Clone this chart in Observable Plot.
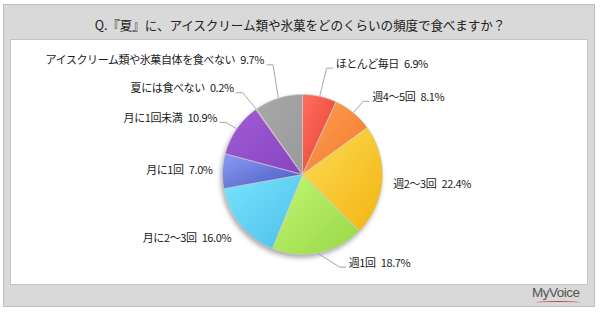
<!DOCTYPE html>
<html>
<head>
<meta charset="utf-8">
<script src="https://cdn.jsdelivr.net/npm/d3@7"></script>
<script src="https://cdn.jsdelivr.net/npm/@observablehq/plot@0.6"></script>
<style>
  html, body { margin: 0; padding: 0; background: #fff; }
  #wrap { position: relative; width: 600px; height: 312px; overflow: hidden; font-family: "Noto Sans CJK JP", "Noto Sans", sans-serif; }
  .outer { position: absolute; left: 3px; top: 4px; width: 590px; height: 301px; background: #d9d9d9; border: 1px solid #bdbdbd; }
  .inner { position: absolute; left: 10px; top: 39px; width: 576px; height: 244px; background: #fff; border: 1px solid #c4c4c4; }
  .title { position: absolute; left: 0; top: 15px; width: 600px; text-align: center; font-size: 12.6px; line-height: 20px; color: #222; letter-spacing: -0.1px; }
  #chart { position: absolute; left: 0; top: 0; }
  #chart svg text { letter-spacing: -0.4px; }
  .logo { position: absolute; left: 532px; top: 285px; font-family: "Liberation Sans", Arial, sans-serif; font-size: 13.5px; color: #555; letter-spacing: -0.5px; }
  .logo .swoosh { position: absolute; left: 4px; top: 16px; width: 44px; height: 2px; border-top: 1px solid #c0404a; border-radius: 50%; }
</style>
</head>
<body>
<div id="wrap">
  <div class="outer"></div>
  <div class="inner"></div>
  <div class="title">Q.『夏』に、アイスクリーム類や氷菓をどのくらいの頻度で食べますか？</div>
  <div id="chart"></div>
  <div class="logo">MyVoice<span class="swoosh"></span></div>
</div>
<script>
// ---- data ----
const categories = ["ほとんど毎日", "週4～5回", "週2～3回", "週1回", "月に2～3回", "月に1回", "月に1回未満", "夏には食べない", "アイスクリーム類や氷菓自体を食べない"];
const values = [6.9, 8.1, 22.4, 18.7, 16.0, 7.0, 10.9, 0.2, 9.7];

// ---- style / layout ----
const colorLight = ["#ff6e60", "#ffa055", "#fedc55", "#c2f874", "#78e4ff", "#8c9cf2", "#a05cd4", "#e07ab0", "#a8a8a8"];
const colorDark  = ["#e6402c", "#f0782a", "#f2b412", "#98d646", "#4cbee8", "#4858c2", "#8844c0", "#c05090", "#9a9a9a"];
const labelShift = [4.3, 2.6, 1.7, -16, -3, 0, -1.4, -3.4, -1.2];   // degrees
const labelDist  = [1.44, 1.30, 1.14, 1.25, 1.2, 1.125, 1.28, 1.375, 1.5]; // in radii
const hasLeader  = [true, true, false, true, false, false, true, true, true];
const cx = 302, cy = 174, R = 80;

const arcs = d3.pie().sort(null).value(d => d).startAngle(0).endAngle(2 * Math.PI)(values);

const slices = arcs.map((a, i) => {
  const pts = [{x: cx, y: cy}];
  const n = Math.max(2, Math.ceil((a.endAngle - a.startAngle) / (Math.PI / 360)));
  for (let k = 0; k <= n; k++) {
    const t = a.startAngle + (a.endAngle - a.startAngle) * k / n;
    pts.push({x: cx + R * Math.sin(t), y: cy - R * Math.cos(t)});
  }
  pts.push({x: cx, y: cy});
  return pts;
});

const labels = arcs.map((a, i) => {
  const mid = (a.startAngle + a.endAngle) / 2;
  const ang = mid + labelShift[i] * Math.PI / 180;
  const d = labelDist[i] * R;
  const right = Math.sin(ang) >= 0;
  return {
    i, mid, right,
    x: cx + d * Math.sin(ang),
    y: cy - d * Math.cos(ang),
    text: `${categories[i]}\u2002${values[i].toFixed(1)}%`
  };
});

const leaders = [];
labels.forEach(l => {
  if (!hasLeader[l.i]) return;
  const s = l.right ? -1 : 1;
  leaders.push({k: l.i, x: cx + (R + 1) * Math.sin(l.mid), y: cy - (R + 1) * Math.cos(l.mid)});
  leaders.push({k: l.i, x: l.x + s * 9, y: l.y + 4});
  leaders.push({k: l.i, x: l.x + s * 3, y: l.y + 4});
});

const chart = Plot.plot({
  width: 600,
  height: 312,
  margin: 0,
  style: "background: transparent; overflow: visible; font-family: 'Noto Sans CJK JP', sans-serif;",
  x: {domain: [0, 600], range: [0, 600], axis: null},
  y: {domain: [0, 312], range: [0, 312], axis: null},
  marks: [
    Plot.dot([{x: cx, y: cy}], {x: "x", y: "y", r: R, fill: "#000", fillOpacity: 0.35, stroke: "none", dx: -1.5, dy: 3, className: "pie-shadow"}),
    ...slices.map((pts, i) => Plot.line(pts, {x: "x", y: "y", fill: `url(#grad${i})`, stroke: "#cfcfcf", strokeWidth: 0.7, curve: "linear"})),
    Plot.line(leaders, {x: "x", y: "y", z: "k", stroke: "#a6a6a6", strokeWidth: 1, curve: "linear"}),
    Plot.text(labels.filter(d => d.right), {x: "x", y: "y", text: "text", textAnchor: "start", fontSize: 11, fill: "#1a1a1a"}),
    Plot.text(labels.filter(d => !d.right), {x: "x", y: "y", text: "text", textAnchor: "end", fontSize: 11, fill: "#1a1a1a"})
  ]
});

// gradients and shadow blur
const svg = d3.select(chart);
const defs = svg.insert("defs", ":first-child");
colorLight.forEach((c, i) => {
  const g = defs.append("linearGradient").attr("id", `grad${i}`)
    .attr("x1", "0").attr("y1", "0").attr("x2", "1").attr("y2", "1");
  g.append("stop").attr("offset", "0%").attr("stop-color", c);
  g.append("stop").attr("offset", "100%").attr("stop-color", colorDark[i]);
});
defs.append("filter").attr("id", "blur").attr("x", "-20%").attr("y", "-20%").attr("width", "140%").attr("height", "140%")
  .append("feGaussianBlur").attr("stdDeviation", 2.5);
svg.select(".pie-shadow").attr("filter", "url(#blur)");

document.getElementById("chart").appendChild(chart);
</script>
</body>
</html>
